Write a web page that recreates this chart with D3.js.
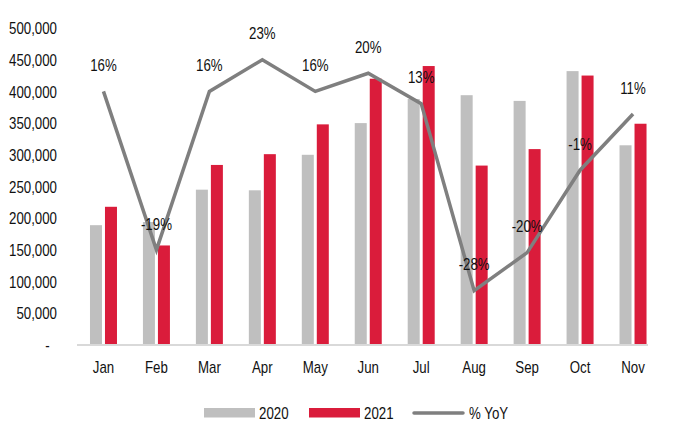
<!DOCTYPE html>
<html><head><meta charset="utf-8">
<script src="https://cdn.jsdelivr.net/npm/d3@7"></script>
<style>
html,body{margin:0;padding:0;background:#fff;}
text{font-family:"Liberation Sans",Arial,sans-serif;fill:#111;}
</style></head>
<body><svg id="c" width="674" height="432"></svg>
<script>
const months = ["Jan","Feb","Mar","Apr","May","Jun","Jul","Aug","Sep","Oct","Nov"];
const series = ["2020","2021"];
const v2020 = [189000, 194000, 245000, 244000, 300000, 350000, 388000, 394000, 385000, 432000, 315000];
const v2021 = [218000, 157000, 284000, 301000, 348000, 420000, 440000, 283000, 309000, 425000, 349000];
const yoy = [16, -19, 16, 23, 16, 20, 13.3, -28, -19.6, -1.4, 11];
const yTicks = [0,50000,100000,150000,200000,250000,300000,350000,400000,450000,500000];
const colors = {"2020":"#BFBFBF","2021":"#DA1C3B", line:"#7F7F7F"};
const FS = "16.2px";
const SX = "scale(0.82,1)";

const svg = d3.select("#c");
const x = d3.scaleBand().domain(months).range([77, 659.5]).paddingInner(0).paddingOuter(0);
const bw = x.bandwidth();
const x1 = d3.scaleBand().domain(series).range([bw/2-13.5, bw/2+13.5]).paddingInner(0.2).paddingOuter(0);
const y = d3.scaleLinear().domain([0,500000]).range([345,28]);
const y2 = d3.scaleLinear().domain([-40,30]).range([345,28]);

// y axis labels
const fmt = d3.format(",");
const yAxis = d3.axisLeft(y).tickValues(yTicks).tickSize(0).tickPadding(0)
  .tickFormat(d => d===0 ? "-" : fmt(d));
const ga = svg.append("g").attr("transform","translate(57,0)").call(yAxis);
ga.select(".domain").remove();
ga.selectAll("text").attr("font-size",FS).attr("font-family",null).attr("fill","#111")
  .attr("dy","0.35em").attr("x",0).attr("transform",SX);
ga.selectAll(".tick").filter(d=>d===0).select("text").attr("x",-9);

// bars
const data = months.map((m,i)=>({m, vals:[{s:"2020",v:v2020[i]},{s:"2021",v:v2021[i]}]}));
const g = svg.append("g");
g.selectAll("g.cat").data(data).join("g").attr("class","cat")
 .attr("transform",d=>`translate(${x(d.m)},0)`)
 .selectAll("rect").data(d=>d.vals).join("rect")
 .attr("x",d=>x1(d.s)).attr("width",x1.bandwidth())
 .attr("y",d=>y(d.v)).attr("height",d=>y(0)-y(d.v))
 .attr("fill",d=>colors[d.s]);

// baseline
svg.append("line").attr("x1",77).attr("x2",648).attr("y1",y(0)).attr("y2",y(0))
  .attr("stroke","#D9D9D9").attr("stroke-width",2);

// x axis labels
const xAxis = d3.axisBottom(x).tickSize(0).tickPadding(0);
const gx = svg.append("g").attr("transform","translate(0,367.5)").call(xAxis);
gx.select(".domain").remove();
gx.selectAll("text").attr("font-size",FS).attr("font-family",null).attr("fill","#111")
  .attr("y",0).attr("dy","0.35em").attr("transform",SX);

// line
const cx = m => x(m)+bw/2;
const line = d3.line().x((d,i)=>cx(months[i])).y(d=>y2(d));
svg.append("path").datum(yoy).attr("d",line).attr("fill","none")
  .attr("stroke",colors.line).attr("stroke-width",3.5).attr("stroke-linejoin","miter");

// labels
svg.append("g").selectAll("text").data(yoy).join("text")
  .attr("transform",(d,i)=>`translate(${cx(months[i])},${y2(d)-26}) ${SX}`).attr("dy","0.35em")
  .attr("text-anchor","middle").attr("font-size",FS)
  .text(d=>Math.round(d)+"%");

// legend
const lg = svg.append("g");
const legText = (px, label) => lg.append("text").attr("transform",`translate(${px},413) ${SX}`)
  .attr("dy","0.35em").attr("font-size",FS).text(label);
lg.append("rect").attr("x",204).attr("y",408).attr("width",51).attr("height",9.5).attr("fill",colors["2020"]);
legText(259, series[0]);
lg.append("rect").attr("x",309).attr("y",408).attr("width",51).attr("height",9.5).attr("fill",colors["2021"]);
legText(364, series[1]);
lg.append("line").attr("x1",414).attr("x2",463).attr("y1",413).attr("y2",413)
  .attr("stroke",colors.line).attr("stroke-width",3.5).attr("stroke-linecap","round");
legText(469, "% YoY");
</script></body></html>
